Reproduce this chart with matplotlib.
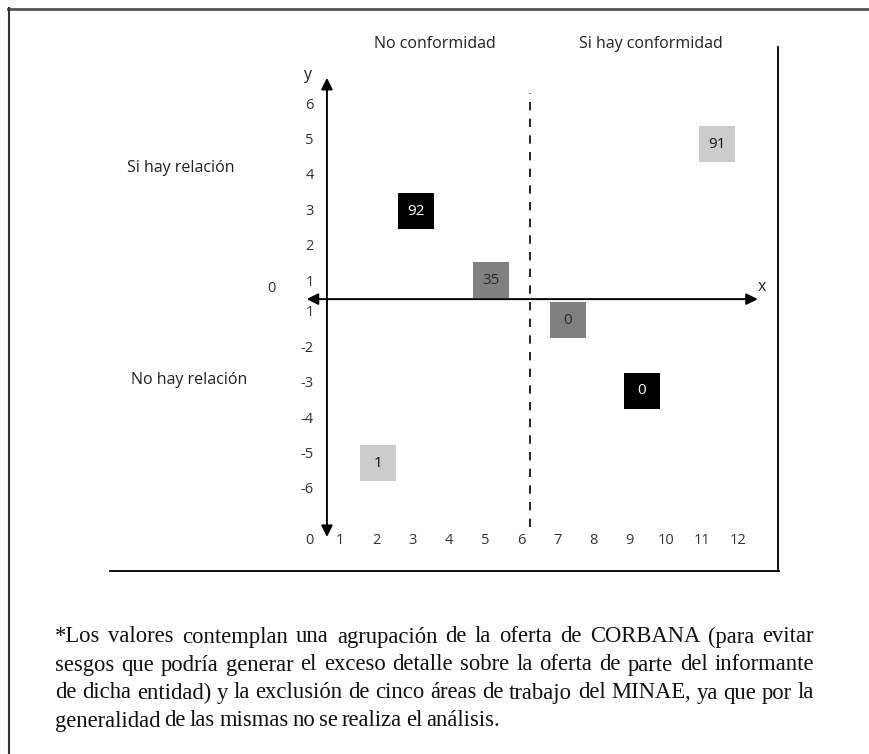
import numpy as np
import matplotlib
matplotlib.use("Agg")
import matplotlib.pyplot as plt
from matplotlib.patches import FancyArrowPatch

# cells of the diagram (positions read against the axis labels)
box_vals = ["92", "35", "91", "0", "0", "1"]
box_x = np.array([3.1, 5.17, 11.41, 7.29, 9.34, 2.05])
box_y = np.array([3.0, 1.06, 4.9, -1.2, -3.2, -5.25])
box_fill = ["#000000", "#808080", "#cccccc", "#808080", "#000000", "#cccccc"]
box_txt = ["white", "#2a2a2a", "#111111", "#2a2a2a", "white", "#111111"]

x_ticks = list(range(0, 13))
y_pos_ticks = [6, 5, 4, 3, 2, 1]
y_neg_ticks = [-1, -2, -3, -4, -5, -6]
y_neg_text = ["1", "-2", "-3", "-4", "-5", "-6"]

col_heads = ["No conformidad", "Si hay conformidad"]
row_heads = ["Si hay relación", "No hay relación"]

note = ["*Los valores contemplan una agrupación de la oferta de CORBANA (para evitar",
        "sesgos que podría generar el exceso detalle sobre la oferta de parte del informante",
        "de dicha entidad) y la exclusión de cinco áreas de trabajo del MINAE, ya que por la",
        "generalidad de las mismas no se realiza el análisis."]

NEG_SHIFT = 1.13  # the lower half of the diagram sits a bit higher than its labels


def ymap(v):
    v = np.asarray(v, dtype=float)
    return np.where(v > 0, v, v + NEG_SHIFT)


W, H = 870, 754
fig = plt.figure(figsize=(W / 100, H / 100), dpi=100)
ax = fig.add_axes([0, 0, 1, 1])
ax.set_xlim(-8.39, 15.64)
ax.set_ylim(-12.33, 8.97)
ax.axis("off")

sans = ["Open Sans", "DejaVu Sans"]

# boxes
ax.bar(box_x, 1.02, width=1.0, bottom=ymap(box_y) - 0.51, color=box_fill, edgecolor="none", zorder=3)
for x, y, t, c in zip(box_x, ymap(box_y), box_vals, box_txt):
    ax.text(x, y, t, ha="center", va="center", color=c, fontsize=11, family=sans, zorder=4)

# axes arrows
arr_kw = dict(arrowstyle="<|-|>", mutation_scale=17, lw=1.4, color="black", zorder=2)
ax.add_patch(FancyArrowPatch((0.64, -6.2), (0.64, 6.77), shrinkA=0, shrinkB=0, **arr_kw))
ax.add_patch(FancyArrowPatch((0.08, 0.52), (12.54, 0.52), shrinkA=0, shrinkB=0, **arr_kw))
ax.plot([6.25, 6.25], [-5.92, 6.34], color="black", lw=1.2, ls=(0, (5, 5)), zorder=1)

# tick labels
tick_kw = dict(fontsize=10.5, family=sans, color="#333333")
for v in x_ticks:
    ax.text(0.17 if v == 0 else v, -6.31, str(v), ha="center", va="center", **tick_kw)
for v in y_pos_ticks:
    ax.text(0.28, v, str(v), ha="right", va="center", **tick_kw)
for v, t in zip(ymap(y_neg_ticks), y_neg_text):
    ax.text(0.28, v, t, ha="right", va="center", **tick_kw)
ax.text(-0.88, 0.83, "0", ha="center", va="center", **tick_kw)
ax.text(0.09, 6.85, "y", ha="center", va="center", fontsize=11.5, family=sans, color="#222222")
ax.text(12.66, 0.86, "x", ha="center", va="center", fontsize=11.5, family=sans, color="#222222")

# headings
head_kw = dict(fontsize=11.5, family=sans, color="#222222", ha="center", va="center")
fig.text(435 / W, 1 - 44 / H, col_heads[0], **head_kw)
fig.text(651 / W, 1 - 44 / H, col_heads[1], **head_kw)
fig.text(181 / W, 1 - 168 / H, row_heads[0], **head_kw)
fig.text(189 / W, 1 - 380 / H, row_heads[1], **head_kw)

# frames
def hline(x0, x1, y, **kw):
    fig.add_artist(plt.Line2D([x0 / W, x1 / W], [1 - y / H, 1 - y / H], **kw))


def vline(x, y0, y1, **kw):
    fig.add_artist(plt.Line2D([x / W, x / W], [1 - y0 / H, 1 - y1 / H], **kw))


hline(8, W, 8.5, color="#555555", lw=2.0)
vline(9.5, 8, H, color="#333333", lw=1.5)
vline(778.5, 47, 571, color="black", lw=1.3)
hline(110, 779, 571, color="black", lw=1.3)

# footnote, justified by hand
fig.canvas.draw()
r = fig.canvas.get_renderer()
left, right = 55, 814
for i, line in enumerate(note):
    yy = 1 - (637 + 28 * i) / H
    words = line.split(" ")
    objs = [fig.text(0, yy, w, fontsize=16.3, family="Liberation Serif", color="#111111", va="center")
            for w in words]
    widths = [o.get_window_extent(r).width for o in objs]
    if i < len(note) - 1:
        gap = (right - left - sum(widths)) / (len(words) - 1)
    else:
        gap = 4.0
    x = left
    for o, w in zip(objs, widths):
        o.set_x(x / W)
        x += w + gap

fig.savefig("out.png", dpi=100)
